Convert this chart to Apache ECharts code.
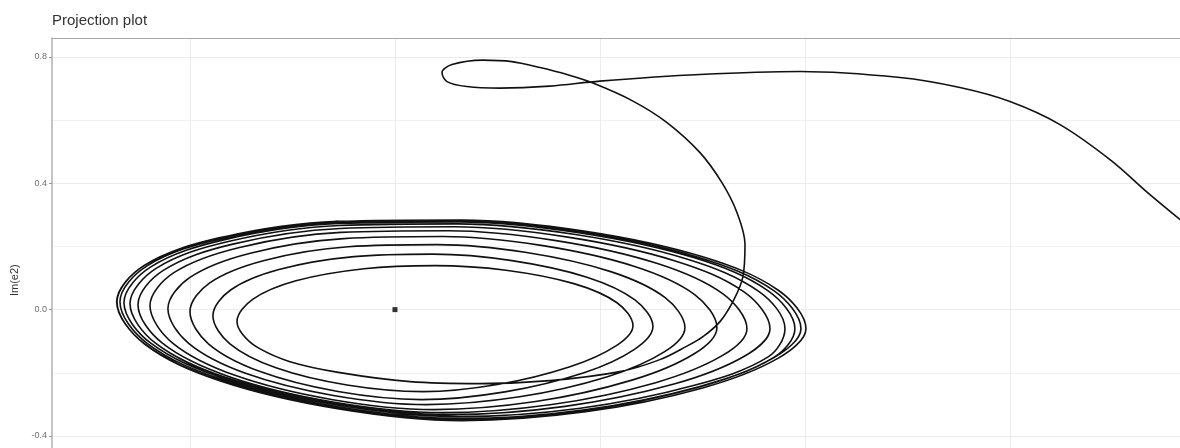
<!DOCTYPE html>
<html>
<head>
<meta charset="utf-8">
<title>Projection plot</title>
<script src="https://cdn.jsdelivr.net/npm/echarts@6.0.0/dist/echarts.min.js"></script>
<style>
  html, body { margin: 0; padding: 0; background: #fff; }
  #chart { width: 1180px; height: 448px; }
</style>
</head>
<body>
<div id="chart"></div>
<script>
// axis ticks / gridlines
const xGridValues = [-0.2, 0, 0.2, 0.4, 0.6];
const yTickLabels = [-0.4, 0, 0.4, 0.8];

// path coming in from the right, the small loop at the top, then down into the spiral
const approach = [
  [0.7756, 0.2597], [0.7366, 0.3642], [0.6976, 0.4750], [0.6488, 0.5858], [0.6000, 0.6587],
  [0.5512, 0.7030], [0.4927, 0.7347], [0.3951, 0.7537], [0.2976, 0.7442], [0.2000, 0.7236],
  [0.1512, 0.7077], [0.1024, 0.7014], [0.0702, 0.7062], [0.0507, 0.7220], [0.0459, 0.7505],
  [0.0556, 0.7758], [0.0859, 0.7901], [0.1141, 0.7853], [0.1415, 0.7663], [0.1678, 0.7442],
  [0.1932, 0.7172], [0.2322, 0.6602], [0.2654, 0.5922], [0.2976, 0.4972], [0.3190, 0.4022],
  [0.3337, 0.3072], [0.3415, 0.2058], [0.3395, 0.1045], [0.3307, 0.0317], [0.3171, -0.0380],
  [0.3005, -0.0855], [0.2839, -0.1172], [0.2585, -0.1583], [0.2195, -0.1963], [0.1512, -0.2248],
  [0.0829, -0.2343], [0.0146, -0.2280], [-0.0537, -0.1995], [-0.1024, -0.1647], [-0.1337, -0.1203],
  [-0.1483, -0.0792]
];

// spiral turns, innermost first
const loop1 = [
  [-0.1541, -0.0380], [-0.1385, 0.0332], [-0.0966, 0.0912], [-0.0302, 0.1292], [0.0390, 0.1393],
  [0.1083, 0.1248], [0.1746, 0.0823], [0.2166, 0.0218], [0.2322, -0.0507],
  [0.2156, -0.1146], [0.1707, -0.1808], [0.1015, -0.2362], [0.0273, -0.2597], [-0.0468, -0.2388],
  [-0.1161, -0.1843], [-0.1610, -0.1083]
];
const loop2 = [
  [-0.1776, -0.0190], [-0.1600, 0.0630], [-0.1132, 0.1270], [-0.0400, 0.1678], [0.0371, 0.1757],
  [0.1141, 0.1552], [0.1873, 0.1026], [0.2341, 0.0307], [0.2517, -0.0538],
  [0.2337, -0.1257], [0.1844, -0.1998], [0.1073, -0.2603], [0.0259, -0.2850], [-0.0556, -0.2593],
  [-0.1322, -0.1954], [-0.1820, -0.1083]
];
const loop3 = [
  [-0.2000, -0.0063], [-0.1807, 0.0849], [-0.1275, 0.1558], [-0.0455, 0.1992], [0.0415, 0.2058],
  [0.1284, 0.1808], [0.2105, 0.1203], [0.2636, 0.0380], [0.2829, -0.0570],
  [0.2627, -0.1339], [0.2073, -0.2125], [0.1216, -0.2761], [0.0307, -0.3008], [-0.0601, -0.2717],
  [-0.1458, -0.2014], [-0.2013, -0.1067]
];
const loop4 = [
  [-0.2215, 0.0032], [-0.2000, 0.1020], [-0.1411, 0.1786], [-0.0500, 0.2248], [0.0463, 0.2315],
  [0.1427, 0.2033], [0.2339, 0.1365], [0.2927, 0.0469], [0.3141, -0.0570],
  [0.2920, -0.1396], [0.2312, -0.2232], [0.1372, -0.2910], [0.0376, -0.3167], [-0.0620, -0.2844],
  [-0.1561, -0.2080], [-0.2169, -0.1058]
];
const loop5 = [
  [-0.2390, 0.0127], [-0.2157, 0.1172], [-0.1516, 0.1970], [-0.0527, 0.2445], [0.0522, 0.2498],
  [0.1571, 0.2185], [0.2561, 0.1460], [0.3200, 0.0500], [0.3434, -0.0602],
  [0.3196, -0.1450], [0.2543, -0.2312], [0.1532, -0.3002], [0.0463, -0.3262], [-0.0606, -0.2923],
  [-0.1616, -0.2125], [-0.2269, -0.1064]
];
const loop6 = [
  [-0.2507, 0.0158], [-0.2260, 0.1241], [-0.1582, 0.2074], [-0.0535, 0.2568], [0.0576, 0.2622],
  [0.1686, 0.2296], [0.2734, 0.1542], [0.3412, 0.0545], [0.3659, -0.0602],
  [0.3409, -0.1476], [0.2722, -0.2356], [0.1660, -0.3062], [0.0537, -0.3325], [-0.0587, -0.2973],
  [-0.1649, -0.2153], [-0.2336, -0.1064]
];
const loop7 = [
  [-0.2585, 0.0190], [-0.2330, 0.1305], [-0.1626, 0.2156], [-0.0540, 0.2663], [0.0610, 0.2714],
  [0.1760, 0.2378], [0.2847, 0.1602], [0.3549, 0.0576], [0.3805, -0.0602],
  [0.3641, -0.1498], [0.2921, -0.2397], [0.1808, -0.3122], [0.0629, -0.3388], [-0.0549, -0.3024],
  [-0.1661, -0.2185], [-0.2382, -0.1064]
];
const loop8 = [
  [-0.2644, 0.0222], [-0.2382, 0.1352], [-0.1661, 0.2217], [-0.0549, 0.2726], [0.0629, 0.2777],
  [0.1808, 0.2429], [0.2921, 0.1640], [0.3641, 0.0592], [0.3902, -0.0602],
  [0.3696, -0.1517], [0.2965, -0.2441], [0.1835, -0.3179], [0.0639, -0.3452], [-0.0557, -0.3078],
  [-0.1686, -0.2213], [-0.2418, -0.1067]
];
const loop9 = [
  [-0.2683, 0.0253], [-0.2418, 0.1387], [-0.1686, 0.2255], [-0.0557, 0.2761], [0.0639, 0.2806],
  [0.1835, 0.2451], [0.2965, 0.1653], [0.3696, 0.0602], [0.3961, -0.0602],
  [0.3694, -0.1526], [0.2960, -0.2460], [0.1825, -0.3208], [0.0624, -0.3483], [-0.0577, -0.3106],
  [-0.1711, -0.2236], [-0.2445, -0.1080]
];
const loop10 = [
  [-0.2712, 0.0253], [-0.2443, 0.1400], [-0.1703, 0.2277], [-0.0561, 0.2793], [0.0649, 0.2840],
  [0.1859, 0.2483], [0.3002, 0.1675], [0.3740, 0.0614], [0.4010, -0.0602],
  [0.3740, -0.1536], [0.3002, -0.2479], [0.1859, -0.3236], [0.0649, -0.3515], [-0.0561, -0.3135],
  [-0.1703, -0.2258], [-0.2443, -0.1089]
];
// last stretch along the outer cycle, where the run stops
const tail = [
  [-0.2715, 0.0250], [-0.2446, 0.1402], [-0.1705, 0.2280], [-0.0562, 0.2796]
];

const equilibrium = [[0, 0]];

const trajectory = approach.concat(loop1, loop2, loop3, loop4, loop5, loop6, loop7, loop8, loop9, loop10, tail);

const font = "'Liberation Sans', Arial, sans-serif";

const chart = echarts.init(document.getElementById("chart"));
chart.setOption({
  animation: false,
  backgroundColor: "#ffffff",
  title: {
    text: "Projection plot",
    left: 52,
    top: 13,
    padding: 0,
    textStyle: { fontFamily: font, fontSize: 15, fontWeight: "normal", color: "#333333" },
  },
  grid: {
    left: 52,
    right: 0,
    top: 38,
    bottom: -114.3,
    containLabel: false,
    outerBoundsMode: "none",
  },
  xAxis: {
    type: "value",
    position: "top",
    min: -0.3346,
    max: 0.7659,
    axisLine: { show: true, onZero: false, lineStyle: { color: "#a8a8a8", width: 1.2 } },
    axisTick: { show: false, customValues: xGridValues },
    axisLabel: { show: false },
    splitLine: { show: true, lineStyle: { color: "#ececec", width: 1 } },
  },
  yAxis: {
    type: "value",
    min: -0.8,
    max: 0.86,
    interval: 0.4,
    name: "Im(e2)",
    nameLocation: "middle",
    nameGap: 30,
    nameRotate: 90,
    nameTextStyle: { fontFamily: font, fontSize: 11, color: "#333333", padding: [0, 0, 0, 40] },
    axisLine: { show: true, onZero: false, lineStyle: { color: "#b0b0b0", width: 1.5 } },
    axisTick: { show: true, length: 3, customValues: yTickLabels, lineStyle: { color: "#999999" } },
    axisLabel: {
      fontFamily: font,
      fontSize: 9,
      color: "#707070",
      margin: 5,
      customValues: yTickLabels,
      formatter: (v) => v.toFixed(1),
    },
    splitLine: { show: true, lineStyle: { color: "#ececec", width: 1 } },
    minorTick: { show: false, splitNumber: 2 },
    minorSplitLine: { show: true, lineStyle: { color: "#f1f1f1", width: 1 } },
  },
  series: [
    {
      type: "line",
      data: trajectory,
      showSymbol: false,
      smooth: 0.35,
      clip: true,
      lineStyle: { color: "#111111", width: 1.6 },
      z: 3,
    },
    {
      type: "scatter",
      data: equilibrium,
      symbol: "rect",
      symbolSize: 5,
      itemStyle: { color: "#000000" },
      z: 4,
    },
  ],
});
</script>
</body>
</html>
